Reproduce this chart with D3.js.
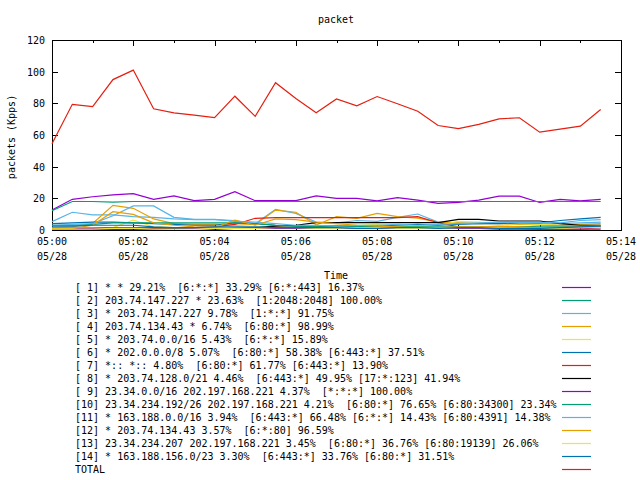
<!DOCTYPE html>
<html>
<head>
<meta charset="utf-8">
<script src="https://cdn.jsdelivr.net/npm/d3@7"></script>
<style>
  html, body { margin: 0; padding: 0; background: #fff; }
  text { font-family: "DejaVu Sans Mono", "Liberation Mono", monospace; font-size: 10px; fill: #000; }
</style>
</head>
<body>
<svg id="chart" width="640" height="480"></svg>
<script>
// ---- data (30-second samples starting 05:00 on 05/28) ----
const startTime = "2000-05-28T05:00:00Z";
const stepSeconds = 30;
const xTickLabels = ["05:00", "05:02", "05:04", "05:06", "05:08", "05:10", "05:12", "05:14"];
const xTickDate = "05/28";
const yTickValues = [0, 20, 40, 60, 80, 100, 120];

const legendLabels = [
  "[ 1] * * 29.21%  [6:*:*] 33.29% [6:*:443] 16.37%",
  "[ 2] 203.74.147.227 * 23.63%  [1:2048:2048] 100.00%",
  "[ 3] * 203.74.147.227 9.78%  [1:*:*] 91.75%",
  "[ 4] 203.74.134.43 * 6.74%  [6:80:*] 98.99%",
  "[ 5] * 203.74.0.0/16 5.43%  [6:*:*] 15.89%",
  "[ 6] * 202.0.0.0/8 5.07%  [6:80:*] 58.38% [6:443:*] 37.51%",
  "[ 7] *:: *:: 4.80%  [6:80:*] 61.77% [6:443:*] 13.90%",
  "[ 8] * 203.74.128.0/21 4.46%  [6:443:*] 49.95% [17:*:123] 41.94%",
  "[ 9] 23.34.0.0/16 202.197.168.221 4.37%  [*:*:*] 100.00%",
  "[10] 23.34.234.192/26 202.197.168.221 4.21%  [6:80:*] 76.65% [6:80:34300] 23.34%",
  "[11] * 163.188.0.0/16 3.94%  [6:443:*] 66.48% [6:*:*] 14.43% [6:80:4391] 14.38%",
  "[12] * 203.74.134.43 3.57%  [6:*:80] 96.59%",
  "[13] 23.34.234.207 202.197.168.221 3.45%  [6:80:*] 36.76% [6:80:19139] 26.06%",
  "[14] * 163.188.156.0/23 3.30%  [6:443:*] 33.76% [6:80:*] 31.51%",
  "TOTAL"
];

const s1  = [12.6,19.4,21,22.2,23,19.4,21.5,18.5,19.4,24.2,18.5,18.5,18.5,21.5,20,20,18.4,20.5,18.9,16.8,17.4,18.9,21.4,21.4,17.4,19.3,18.4,19.3];
const s2  = [12.2,18,18,17.6,18,18,18,18,18,18,18,18,18,18,18,18,18,18,18,18,18,18,18,18,18,18,18,18];
const s3  = [5.3,11.2,9.5,9.5,8.5,8,7,6.5,6.5,6,4,13,10.5,5,4.5,6,5.5,8,10.1,5,4.5,4,4.5,4.5,4,4,4.5,5];
const s4  = [1.5,2,4.2,15.6,13.7,7,4,3.5,3.5,3,3.5,12.6,11.2,3.2,8.4,7.4,10.5,8.4,7.5,5,4.5,4,4,3.5,3.5,3,3.5,4];
const s5  = [1,1,1.5,1.5,6.3,2,1.5,1.5,1,1,1.5,2,2,2.5,3,3,3.5,2.5,2,3,5.5,5,4,4,3.5,3,3,3];
const s6  = [4,4.5,5,5,4.5,4,3.5,3,3,4.5,4,3,2.5,2,2.5,2.5,2.5,3,3.5,3,3.5,4,4,4.5,4.5,6,7,8];
const s7  = [1,1,1,1.5,1.5,1,1,1.5,2,3.5,7.4,7.8,7.8,7.8,7.8,7.8,7.8,7.8,8.4,4.6,2,1.5,1,1,0.5,0.5,0.5,1.5];
const s8  = [0.5,0.5,0.5,0.5,0.5,0.5,1,1,0.5,1,1.5,2.5,3,4.6,4.6,4.6,4.6,4.6,4.6,4.6,6.7,6.7,5.7,5.7,5.7,4,3,3];
const s9  = [1,1,1,1,1,1.5,1.5,1,1,1,1,1,1,1,1,1,1,1,1,1,1,1,0.5,0.5,0.5,0.5,0.5,0.5];
const s10 = [3,3,3.5,4.5,4.5,4.5,4.5,4.5,4.5,4.5,4,3,2.5,2.5,2.5,2.5,2,2,2,2,2,2,2,2,2.5,2.5,2.5,2.5];
const s11 = [3,3.5,4,9,15.2,15.2,8,6.7,6.7,5.5,5,4,3,3,2.5,3,3,3.5,3,3.5,4,4.5,5,4.8,4.8,4.5,6,6.5];
const s12 = [1,1,3,11.6,9.9,4.5,3,2,1.5,6.3,3,7,6.5,5,4,3,2.5,2,1,1.5,2,2,2.5,2,1.5,1.5,2,2.5];
const s13 = [0.5,0.5,0.5,1,1,0.5,0.5,0.5,1,1,1,1.5,1.5,1,1,1.5,1.5,1,1,1,1.5,1.5,1.5,1,1,1,1.5,1.5];
const s14 = [2.5,2.5,3,3,3,2,1.5,1.5,2,2,2,1.5,1.5,1.5,1.5,1,1,1.5,1.5,1,1.5,1.5,1,1,1,1.5,2,2.5];
const total = [54.5,79.4,78,95,101,76.6,74,72.5,71,84.5,71.8,93,83,74,82.8,78.4,84.3,79.7,75,66,64,66.7,70.2,70.9,61.8,63.7,65.6,76.1];

const colors = ["#9400d3","#009e73","#56b4e9","#e69f00","#f0e442","#0072b2","#e51e10","#000000"];

// ---- build ----
const seriesList = [s1,s2,s3,s4,s5,s6,s7,s8,s9,s10,s11,s12,s13,s14,total];
const t0 = new Date(startTime);
const timeAt = i => new Date(t0.getTime() + i * stepSeconds * 1000);

const svg = d3.select("#chart");
const L = 52, R = 621, T = 40, B = 230;

const x = d3.scaleUtc()
  .domain([t0, new Date(t0.getTime() + 14 * 60 * 1000)])
  .range([L, R]);
const y = d3.scaleLinear().domain([0, 120]).range([B, T]);

// frame
svg.append("rect")
  .attr("x", L + 0.5).attr("y", T + 0.5)
  .attr("width", R - L).attr("height", B - T)
  .attr("fill", "none").attr("stroke", "#000").attr("stroke-width", 1);

// ticks (inward, mirrored)
const majorX = xTickLabels.map((_, i) => new Date(t0.getTime() + i * 120000));
const minorX = d3.range(1, 14, 2).map(m => new Date(t0.getTime() + m * 60000));
const tickG = svg.append("g").attr("stroke", "#000").attr("stroke-width", 1);
majorX.forEach(d => {
  const px = Math.round(x(d)) + 0.5;
  tickG.append("line").attr("x1", px).attr("x2", px).attr("y1", B).attr("y2", B - 6);
  tickG.append("line").attr("x1", px).attr("x2", px).attr("y1", T).attr("y2", T + 6);
});
minorX.forEach(d => {
  const px = Math.round(x(d)) + 0.5;
  tickG.append("line").attr("x1", px).attr("x2", px).attr("y1", B).attr("y2", B - 3);
  tickG.append("line").attr("x1", px).attr("x2", px).attr("y1", T).attr("y2", T + 3);
});
yTickValues.forEach(v => {
  const py = Math.round(y(v)) + 0.5;
  tickG.append("line").attr("x1", L).attr("x2", L + 6).attr("y1", py).attr("y2", py);
  tickG.append("line").attr("x1", R).attr("x2", R - 6).attr("y1", py).attr("y2", py);
});

// y tick labels
svg.append("g").selectAll("text").data(yTickValues).join("text")
  .attr("x", 45).attr("y", d => y(d) + 4)
  .attr("text-anchor", "end").text(d => d);

// x tick labels
const xl = svg.append("g");
xl.selectAll("text.t").data(majorX).join("text").attr("class", "t")
  .attr("x", d => x(d)).attr("y", 245)
  .attr("text-anchor", "middle").text((d, i) => xTickLabels[i]);
xl.selectAll("text.d").data(majorX).join("text").attr("class", "d")
  .attr("x", d => x(d)).attr("y", 260)
  .attr("text-anchor", "middle").text(xTickDate);

// titles
svg.append("text").attr("x", 336).attr("y", 23).attr("text-anchor", "middle").text("packet");
svg.append("text").attr("x", 336).attr("y", 279).attr("text-anchor", "middle").text("Time");
svg.append("text")
  .attr("transform", "translate(15,137) rotate(-90)")
  .attr("text-anchor", "middle").text("packets (Kpps)");

// lines
const line = d3.line()
  .x((d, i) => x(timeAt(i)))
  .y(d => y(d));
const lg = svg.append("g");
seriesList.forEach((s, k) => {
  lg.append("path")
    .attr("d", line(s))
    .attr("fill", "none")
    .attr("stroke", colors[k % colors.length])
    .attr("stroke-width", 1.2);
});

// legend
const leg = svg.append("g");
legendLabels.forEach((lab, k) => {
  const cy = 287 + 13 * k;
  leg.append("text").attr("x", 75).attr("y", cy + 4)
    .attr("xml:space", "preserve").style("white-space", "pre").text(lab);
  leg.append("line")
    .attr("x1", 562).attr("x2", 591)
    .attr("y1", cy + 0.5).attr("y2", cy + 0.5)
    .attr("stroke", colors[k % colors.length]).attr("stroke-width", 1.2);
});
</script>
</body>
</html>
